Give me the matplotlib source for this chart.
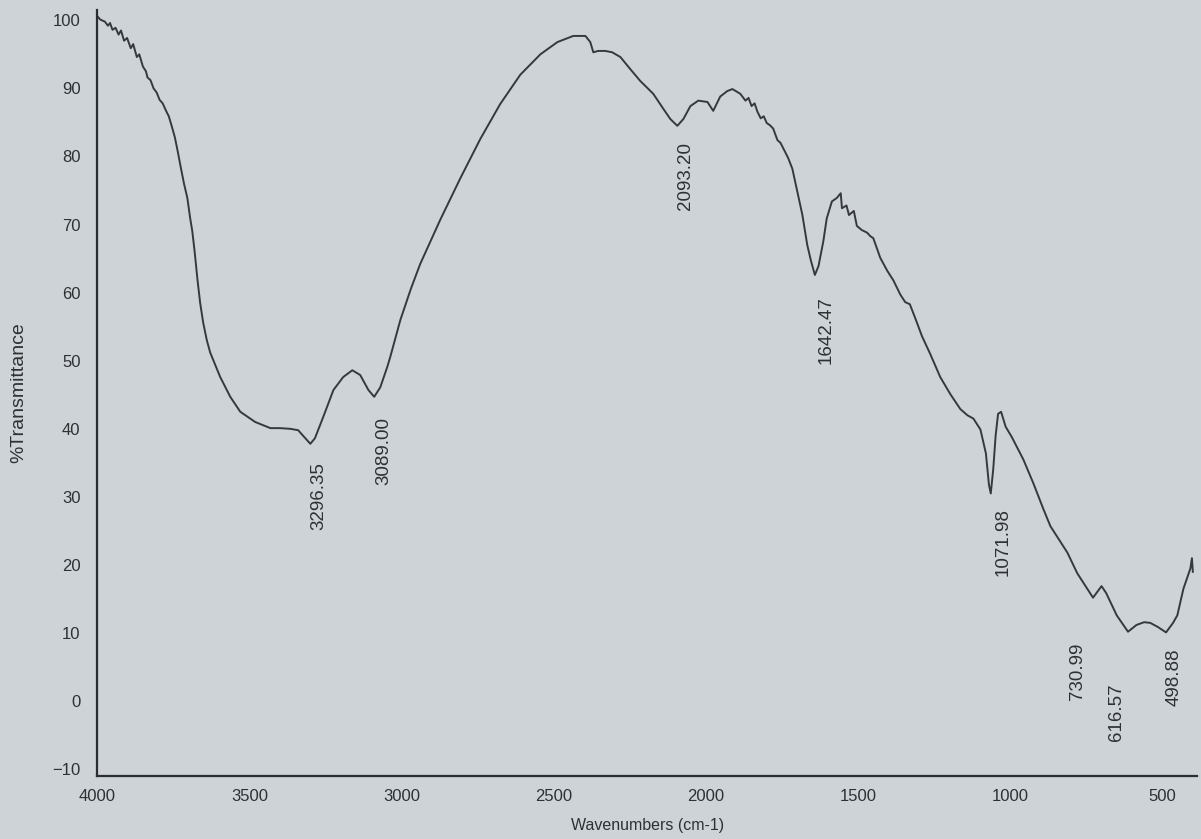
import matplotlib
matplotlib.use('Agg')
import matplotlib.pyplot as plt
import numpy as np

# FTIR spectrum
wavenumber = [
    4000, 3990, 3975, 3965, 3958, 3950, 3940, 3930, 3922, 3912, 3902, 3890,
    3882, 3870, 3862, 3850, 3840, 3835, 3825, 3815, 3805, 3795, 3785, 3775,
    3765, 3755, 3745, 3735, 3727, 3715, 3704, 3695, 3688, 3680, 3671, 3662,
    3652, 3640, 3629, 3596, 3563, 3530, 3481, 3431, 3399, 3366, 3340, 3320,
    3300, 3285, 3257, 3224, 3192, 3162, 3136, 3109, 3090, 3070, 3047, 3037,
    3004, 2970, 2939, 2873, 2807, 2741, 2676, 2610, 2544, 2488, 2436, 2396,
    2380, 2370, 2354, 2331, 2308, 2281, 2248, 2216, 2173, 2140, 2117, 2094,
    2074, 2051, 2025, 1995, 1976, 1953, 1930, 1913, 1887, 1870, 1860, 1850,
    1840, 1831, 1820, 1810, 1800, 1790, 1779, 1765, 1755, 1746, 1730, 1716,
    1700, 1683, 1667, 1655, 1642, 1630, 1614, 1603, 1586, 1570, 1557, 1553,
    1538, 1530, 1514, 1504, 1488, 1470, 1460, 1450, 1427, 1404, 1384, 1361,
    1345, 1330, 1310, 1290, 1263, 1230, 1197, 1164, 1141, 1121, 1098, 1080,
    1070, 1064, 1056, 1048, 1040, 1030, 1015, 995, 957, 924, 891, 868,
    812, 780, 747, 728, 700, 685, 650, 613, 585, 560, 540, 515,
    488, 465, 451, 431, 415, 408, 403, 400,
]
transmittance = [
    100.6, 100.1, 99.8, 99.2, 99.6, 98.6, 98.9, 97.9, 98.5, 97.0, 97.4, 95.9,
    96.5, 94.6, 95.0, 93.2, 92.5, 91.6, 91.2, 90.0, 89.4, 88.3, 87.8, 86.8,
    85.9, 84.4, 82.8, 80.6, 78.7, 76.0, 73.9, 71.0, 69.1, 66.0, 62.0, 58.5,
    55.6, 53.0, 51.2, 47.6, 44.7, 42.5, 41.0, 40.1, 40.1, 40.0, 39.8, 38.8,
    37.8, 38.6, 41.8, 45.7, 47.6, 48.6, 47.9, 45.7, 44.7, 46.1, 49.1, 50.6,
    56.0, 60.5, 64.2, 70.7, 76.8, 82.6, 87.7, 92.0, 95.0, 96.8, 97.7, 97.7,
    96.8, 95.3, 95.5, 95.5, 95.3, 94.6, 92.8, 91.1, 89.2, 87.0, 85.5, 84.5,
    85.5, 87.4, 88.2, 88.0, 86.7, 88.8, 89.6, 89.9, 89.2, 88.2, 88.6, 87.4,
    87.8, 86.6, 85.6, 85.9, 84.9, 84.6, 84.1, 82.4, 82.0, 81.2, 79.8, 78.2,
    74.9, 71.4, 67.0, 64.7, 62.6, 63.9, 67.6, 70.9, 73.4, 73.9, 74.6, 72.4,
    72.8, 71.4, 72.0, 69.8, 69.2, 68.8, 68.3, 68.0, 65.1, 63.2, 61.8, 59.7,
    58.6, 58.3, 56.0, 53.6, 51.0, 47.6, 45.1, 42.9, 42.0, 41.5, 39.9, 36.4,
    31.8, 30.5, 34.0, 39.0, 42.2, 42.5, 40.3, 38.8, 35.5, 32.0, 28.2, 25.7,
    21.8, 18.8, 16.5, 15.2, 16.9, 15.9, 12.6, 10.2, 11.2, 11.6, 11.5, 10.9,
    10.1, 11.5, 12.6, 16.5, 18.6, 19.5, 21.0, 19.0,
]

# labelled bands
peak_labels = ['3296.35', '3089.00', '2093.20', '1642.47',
               '1071.98', '730.99', '616.57', '498.88']
peak_wn = [3296.35, 3089.00, 2093.20, 1642.47, 1071.98, 730.99, 616.57, 498.88]
peak_t = [37.8, 44.7, 84.5, 62.6, 30.5, 15.2, 10.2, 10.1]

x_ticks = [4000, 3500, 3000, 2500, 2000, 1500, 1000, 500]
y_ticks = [-10, 0, 10, 20, 30, 40, 50, 60, 70, 80, 90, 100]

# label offsets in pixels (dx, dy) from the band minimum
label_offsets = [(7, -18), (9, -20), (8, -16), (11, -21),
                 (15, -15), (-15, -45), (-10, -52), (11, -16)]

bg = '#ced3d7'
ink = '#36393c'
text_c = '#2e3133'
plt.rcParams['font.family'] = ['Liberation Sans', 'DejaVu Sans']

fig = plt.figure(figsize=(12.01, 8.39), dpi=100, facecolor=bg)
ax = fig.add_axes([0.081, 0.075, 0.916, 0.913])
ax.set_facecolor(bg)

ax.plot(wavenumber, transmittance, color=ink, linewidth=1.4)

ax.set_xlim(4000, 385)
ax.set_ylim(-11, 101.5)
ax.set_xticks(x_ticks)
ax.set_yticks(y_ticks)
ax.tick_params(axis='both', length=0, labelsize=12, labelcolor=text_c)
ax.tick_params(axis='x', pad=9)
ax.tick_params(axis='y', pad=12)

for s in ['top', 'right']:
    ax.spines[s].set_visible(False)
for s in ['left', 'bottom']:
    ax.spines[s].set_color('#2b2e30')
    ax.spines[s].set_linewidth(1.6)

ax.set_xlabel('Wavenumbers (cm-1)', fontsize=11.5, color=text_c)
ax.set_ylabel('%Transmittance', fontsize=14, color=text_c)
ax.xaxis.set_label_coords(0.5, -0.055)
ax.yaxis.set_label_coords(-0.064, 0.5)

for lab, wn, t, (dx, dy) in zip(peak_labels, peak_wn, peak_t, label_offsets):
    ax.annotate(lab, xy=(wn, t), xytext=(dx, dy), textcoords='offset pixels',
                rotation=90, ha='center', va='top', fontsize=13.5,
                color=text_c)

fig.savefig('out.png', dpi=100, facecolor=bg)
